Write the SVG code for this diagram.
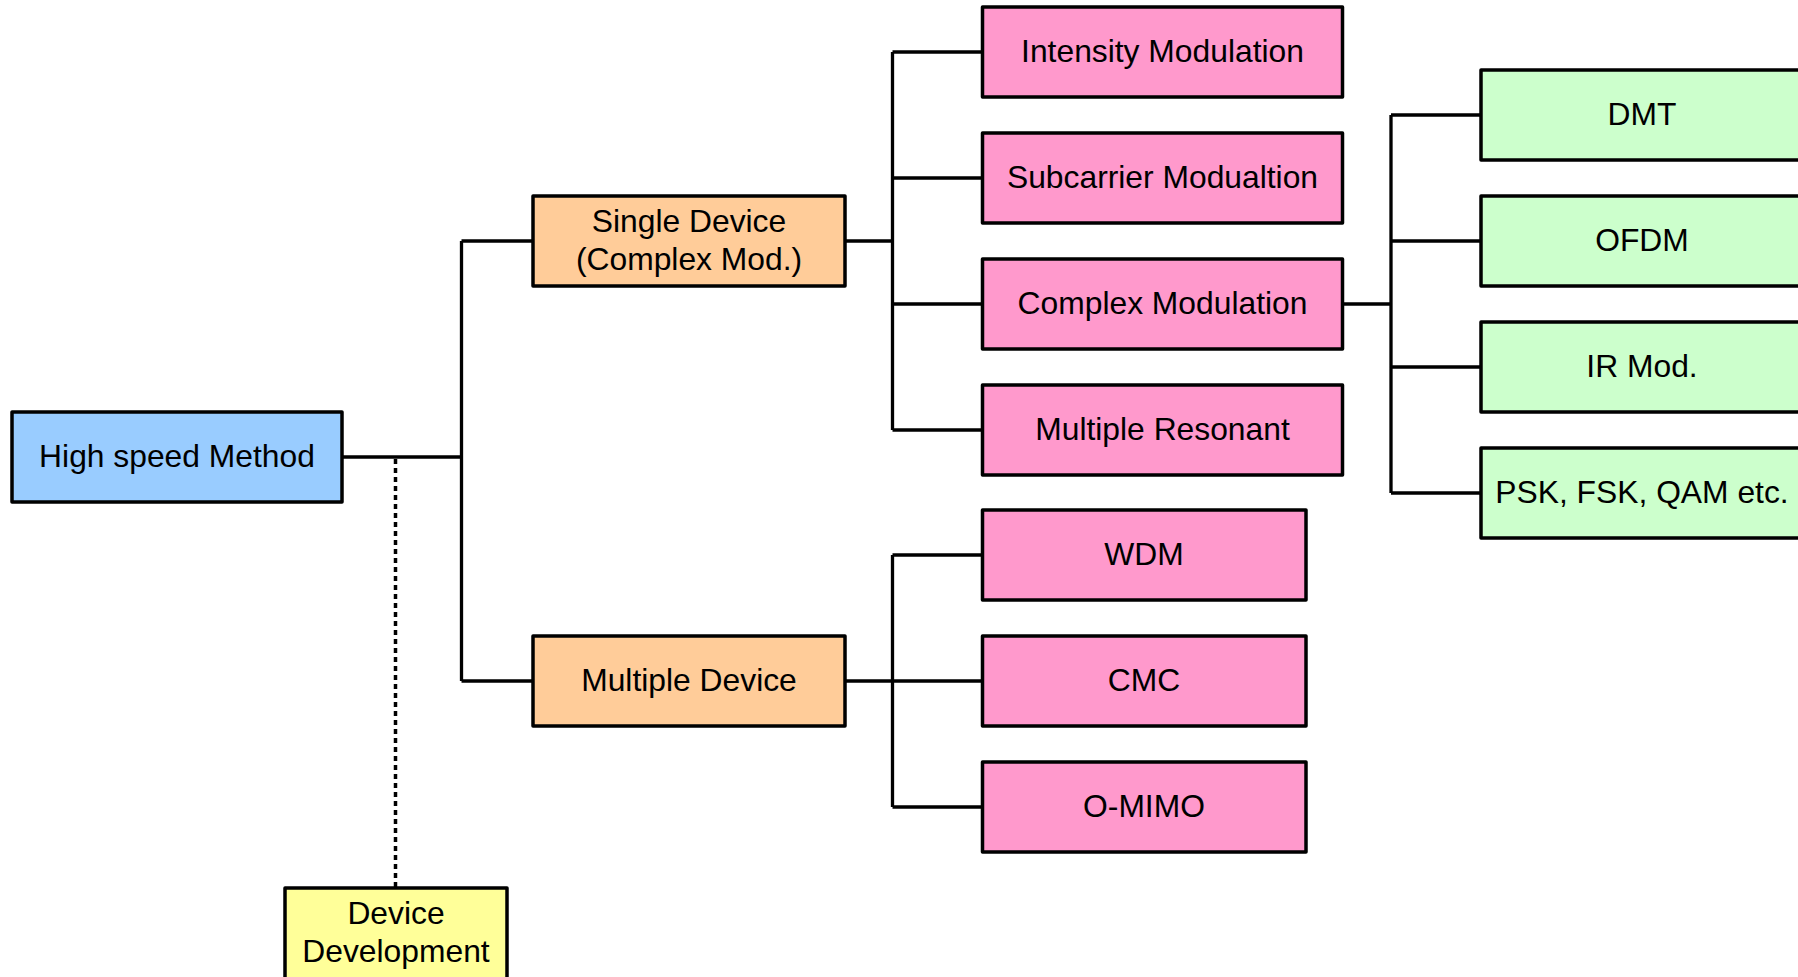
<svg xmlns="http://www.w3.org/2000/svg" width="1798" height="977" viewBox="0 0 1798 977">
  <style>
    .box { stroke: #000; stroke-width: 3.5; stroke-linejoin: round; }
    .blue { fill: #99CCFF; }
    .orange { fill: #FFCC99; }
    .pink { fill: #FF99CC; }
    .green { fill: #CCFFCC; }
    .yellow { fill: #FFFF99; }
    .label { font-family: "Liberation Sans", Arial, sans-serif; font-size: 31.8px; fill: #000; text-anchor: middle; }
    .wire { fill: none; stroke: #000; stroke-width: 3.3; }
    .dotted { fill: none; stroke: #000; stroke-width: 3.5; stroke-dasharray: 5 4; }
  </style>
  <rect width="1798" height="977" fill="#fff"/>

  <!-- connectors -->
  <g id="connectors">
    <!-- root to first-level trunk -->
    <path class="wire" d="M342 457 H461.5 M461.5 241 V681 M461.5 241 H533 M461.5 681 H533"/>
    <!-- root to device development (dotted) -->
    <path class="dotted" d="M395.5 459 V888"/>
    <!-- single device branches -->
    <path class="wire" d="M845 241 H892.5 M892.5 52 V430 M892.5 52 H982.5 M892.5 178 H982.5 M892.5 304 H982.5 M892.5 430 H982.5"/>
    <!-- multiple device branches -->
    <path class="wire" d="M845 681 H982.5 M892.5 555 V807 M892.5 555 H982.5 M892.5 807 H982.5"/>
    <!-- complex modulation branches -->
    <path class="wire" d="M1343 304 H1391 M1391 115 V493 M1391 115 H1481 M1391 241 H1481 M1391 367 H1481 M1391 493 H1481"/>
  </g>

  <g id="high-speed-method">
    <rect class="box blue" x="12" y="412" width="330" height="90"/>
    <text class="label" x="177" y="467">High speed Method</text>
  </g>

  <g id="single-device">
    <rect class="box orange" x="533" y="196" width="312" height="90"/>
    <text class="label" x="689" y="232">Single Device</text>
    <text class="label" x="689" y="270">(Complex Mod.)</text>
  </g>

  <g id="multiple-device">
    <rect class="box orange" x="533" y="636" width="312" height="90"/>
    <text class="label" x="689" y="691">Multiple Device</text>
  </g>

  <g id="intensity-modulation">
    <rect class="box pink" x="982.5" y="7" width="360" height="90"/>
    <text class="label" x="1162.5" y="62">Intensity Modulation</text>
  </g>

  <g id="subcarrier-modulation">
    <rect class="box pink" x="982.5" y="133" width="360" height="90"/>
    <text class="label" x="1162.5" y="188">Subcarrier Modualtion</text>
  </g>

  <g id="complex-modulation">
    <rect class="box pink" x="982.5" y="259" width="360" height="90"/>
    <text class="label" x="1162.5" y="314">Complex Modulation</text>
  </g>

  <g id="multiple-resonant">
    <rect class="box pink" x="982.5" y="385" width="360" height="90"/>
    <text class="label" x="1162.5" y="440">Multiple Resonant</text>
  </g>

  <g id="wdm">
    <rect class="box pink" x="982.5" y="510" width="323.5" height="90"/>
    <text class="label" x="1144" y="565">WDM</text>
  </g>

  <g id="cmc">
    <rect class="box pink" x="982.5" y="636" width="323.5" height="90"/>
    <text class="label" x="1144" y="691">CMC</text>
  </g>

  <g id="o-mimo">
    <rect class="box pink" x="982.5" y="762" width="323.5" height="90"/>
    <text class="label" x="1144" y="817">O-MIMO</text>
  </g>

  <g id="dmt">
    <rect class="box green" x="1481" y="70" width="330" height="90"/>
    <text class="label" x="1642" y="125">DMT</text>
  </g>

  <g id="ofdm">
    <rect class="box green" x="1481" y="196" width="330" height="90"/>
    <text class="label" x="1642" y="251">OFDM</text>
  </g>

  <g id="ir-mod">
    <rect class="box green" x="1481" y="322" width="330" height="90"/>
    <text class="label" x="1642" y="377">IR Mod.</text>
  </g>

  <g id="psk-fsk-qam">
    <rect class="box green" x="1481" y="448" width="330" height="90"/>
    <text class="label" x="1642" y="503">PSK, FSK, QAM etc.</text>
  </g>

  <g id="device-development">
    <rect class="box yellow" x="285" y="888" width="222" height="100"/>
    <text class="label" x="396" y="924">Device</text>
    <text class="label" x="396" y="962">Development</text>
  </g>
</svg>
